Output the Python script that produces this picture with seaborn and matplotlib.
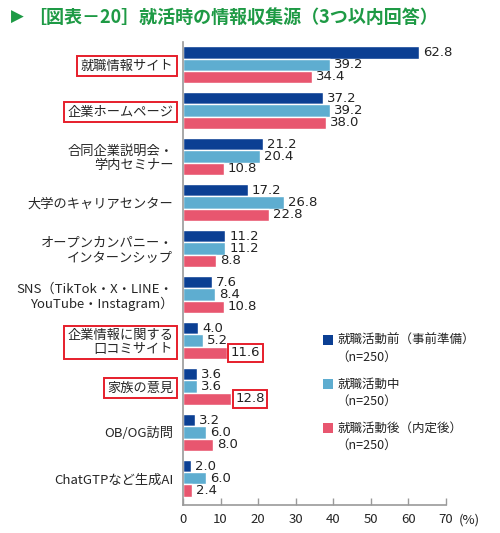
import matplotlib
matplotlib.use("Agg")
import matplotlib.pyplot as plt
import seaborn as sns
import pandas as pd
from matplotlib.patches import Rectangle

categories = [
    "就職情報サイト",
    "企業ホームページ",
    "合同企業説明会・\n学内セミナー",
    "大学のキャリアセンター",
    "オープンカンパニー・\nインターンシップ",
    "SNS（TikTok・X・LINE・\nYouTube・Instagram）",
    "企業情報に関する\n口コミサイト",
    "家族の意見",
    "OB/OG訪問",
    "ChatGTPなど生成AI",
]
series = ["就職活動前（事前準備）", "就職活動中", "就職活動後（内定後）"]
before = [62.8, 37.2, 21.2, 17.2, 11.2, 7.6, 4.0, 3.6, 3.2, 2.0]
during = [39.2, 39.2, 20.4, 26.8, 11.2, 8.4, 5.2, 3.6, 6.0, 6.0]
after = [34.4, 38.0, 10.8, 22.8, 8.8, 10.8, 11.6, 12.8, 8.0, 2.4]
xticks = [0, 10, 20, 30, 40, 50, 60, 70]
boxed_cats = [0, 1, 6, 7]
boxed_after = [6, 7]

colors = ["#0b3f93", "#5eadd0", "#e8566f"]
green = "#1e9a45"
red = "#e61e2b"

rows = []
for s, vals in zip(series, [before, during, after]):
    for c, v in zip(categories, vals):
        rows.append({"cat": c, "series": s, "val": v})
df = pd.DataFrame(rows)

sns.set_theme(style="white")
plt.rcParams["font.family"] = ["Noto Sans CJK JP", "DejaVu Sans"]

fig = plt.figure(figsize=(5.0, 5.33), dpi=100)
ax = fig.add_axes([0.366, 0.0525, 0.526, 0.8685])

sns.barplot(data=df, y="cat", x="val", hue="series", order=categories,
            hue_order=series, palette=colors, orient="h", width=0.8,
            saturation=1, ax=ax, legend=False)

ax.set_xlim(0, 70)
ax.set_ylim(9.58, -0.49)
ax.set_xlabel("")
ax.set_ylabel("")
ax.set_xticks(xticks)
ax.set_xticklabels([str(t) for t in xticks])
ax.tick_params(axis="x", direction="in", length=5, width=1, color="#9a9a9a",
               labelsize=9.5, pad=6, bottom=True)
ax.tick_params(axis="y", length=0, labelsize=9.5, pad=7)
for lbl in ax.get_yticklabels():
    lbl.set_linespacing(1.1)
for sp in ["top", "right"]:
    ax.spines[sp].set_visible(False)
for sp in ["left", "bottom"]:
    ax.spines[sp].set_color("#9a9a9a")
    ax.spines[sp].set_linewidth(1.2)

for i, lbl in enumerate(ax.get_yticklabels()):
    if i in boxed_cats:
        lbl.set_bbox(dict(boxstyle="square,pad=0.25", fc="white", ec=red, lw=1.4))

for k, cont in enumerate(ax.containers):
    texts = ax.bar_label(cont, fmt="%.1f", padding=3, fontsize=9.5,
                         family=["DejaVu Sans"], color="#222222")
    if k == 2:
        for i in boxed_after:
            texts[i].set_bbox(dict(boxstyle="square,pad=0.2", fc="white", ec=red, lw=1.4))

ax.annotate("(%)", xy=(1.0, 0.0), xycoords="axes fraction", xytext=(9, -6),
            textcoords="offset points", fontsize=9.5, ha="left", va="top",
            color="#222222")

# Title
fig.text(0.022, 0.968, "▶", fontsize=12, color=green, va="center", ha="left",
         family=["DejaVu Sans"])
fig.text(0.056, 0.968, "［図表－20］就活時の情報収集源（3つ以内回答）", fontsize=13,
         color=green, va="center", ha="left", fontweight="bold")

# Legend
leg_y = [340, 384, 428]
for c, s, y in zip(colors, series, leg_y):
    fig.patches.append(Rectangle((323 / 500, 1 - (y + 5) / 533), 10 / 500, 10 / 533,
                                 transform=fig.transFigure, facecolor=c, edgecolor="none"))
    fig.text(338 / 500, 1 - y / 533, s, fontsize=9, va="center", ha="left", color="#222222")
    fig.text(336 / 500, 1 - (y + 17) / 533, "（n=250）", fontsize=9, va="center", ha="left",
             color="#222222")

fig.savefig("out.png", dpi=100)
